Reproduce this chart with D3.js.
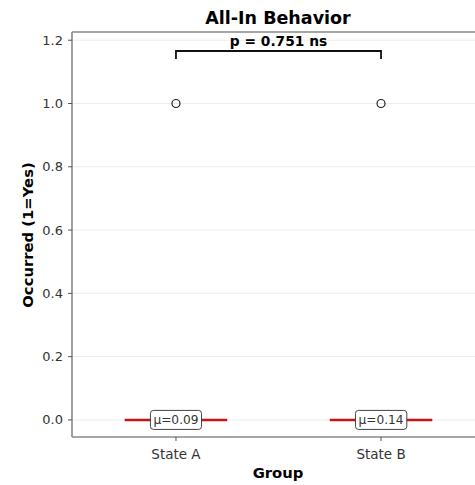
<!DOCTYPE html>
<meta charset="utf-8">
<script src="https://d3js.org/d3.v7.min.js"></script>
<style>
body { margin: 0; background: #fff; }
text { font-family: "DejaVu Sans", sans-serif; }
</style>
<div id="chart"></div>
<script>
// data: binary outcome per group
var groups = ["State A", "State B"];
var stateA = [0, 0, 0, 0, 0, 0, 0, 0, 0, 0, 1];
var stateB = [0, 0, 0, 0, 0, 0, 1];
var yTicks = [0.0, 0.2, 0.4, 0.6, 0.8, 1.0, 1.2];
var pLabel = "p = 0.751 ns";

var W = 475, H = 485;

var svg = d3.select("#chart").append("svg")
  .attr("width", W).attr("height", H);

var x = d3.scaleLinear().domain([-0.507, 1.507]).range([72, 485]);
var y = d3.scaleLinear().domain([-0.054, 1.226]).range([437, 32]);

// grid
svg.append("g").selectAll("line").data(yTicks).enter().append("line")
  .attr("x1", 72).attr("x2", W)
  .attr("y1", function(d) { return y(d); }).attr("y2", function(d) { return y(d); })
  .attr("stroke", "#ececec").attr("stroke-width", 1);

// box stats
var data = [stateA, stateB].map(function(v, i) {
  var s = v.slice().sort(d3.ascending);
  var q1 = d3.quantile(s, 0.25), q3 = d3.quantile(s, 0.75), med = d3.quantile(s, 0.5);
  var iqr = q3 - q1;
  var fl = s.filter(function(d) { return d < q1 - 1.5 * iqr || d > q3 + 1.5 * iqr; });
  return {g: groups[i], i: i, med: med, q1: q1, q3: q3, mean: d3.mean(s), fliers: fl};
});

var bw = 0.5;

var box = svg.append("g").selectAll("g").data(data).enter().append("g");

box.append("line")
  .attr("x1", function(d) { return x(d.i - bw / 2); })
  .attr("x2", function(d) { return x(d.i + bw / 2); })
  .attr("y1", function(d) { return y(d.med); })
  .attr("y2", function(d) { return y(d.med); })
  .attr("stroke", "#cc1111").attr("stroke-width", 2.5);

box.selectAll("circle").data(function(d) {
  return d.fliers.filter(function(v, k, a) { return a.indexOf(v) === k; })
    .map(function(v) { return {i: d.i, v: v}; });
}).enter().append("circle")
  .attr("cx", function(d) { return x(d.i); })
  .attr("cy", function(d) { return y(d.v); })
  .attr("r", 4)
  .attr("fill", "none").attr("stroke", "#222").attr("stroke-width", 1.2);

// mean labels
box.each(function(d) {
  var g = d3.select(this);
  var t = g.append("text")
    .attr("x", x(d.i)).attr("y", y(0) + 4.5)
    .attr("text-anchor", "middle")
    .attr("font-size", 12.2).attr("fill", "#333")
    .text("\u03bc=" + d.mean.toFixed(2));
  var bb = t.node().getBBox();
  g.insert("rect", "text")
    .attr("x", bb.x - 3).attr("y", y(0) - 9.5)
    .attr("width", bb.width + 6).attr("height", 19)
    .attr("rx", 3)
    .attr("fill", "#fff").attr("stroke", "#444").attr("stroke-width", 1);
});

// spines
svg.append("line").attr("x1", 72).attr("x2", 72).attr("y1", 32).attr("y2", 437)
  .attr("stroke", "#888").attr("stroke-width", 1.6);
svg.append("line").attr("x1", 72).attr("x2", W).attr("y1", 437).attr("y2", 437)
  .attr("stroke", "#888").attr("stroke-width", 1.6);
svg.append("line").attr("x1", 72).attr("x2", W).attr("y1", 32).attr("y2", 32)
  .attr("stroke", "#888").attr("stroke-width", 1.6);

// y ticks
var yt = svg.append("g").selectAll("g").data(yTicks).enter().append("g");
yt.append("line").attr("x1", 68).attr("x2", 72)
  .attr("y1", function(d) { return y(d); }).attr("y2", function(d) { return y(d); })
  .attr("stroke", "#555").attr("stroke-width", 1);
yt.append("text").attr("x", 63).attr("y", function(d) { return y(d) + 4.5; })
  .attr("text-anchor", "end").attr("font-size", 13).attr("fill", "#333")
  .text(function(d) { return d.toFixed(1); });

// x ticks
var xt = svg.append("g").selectAll("g").data(groups).enter().append("g");
xt.append("line").attr("x1", function(d, i) { return x(i); }).attr("x2", function(d, i) { return x(i); })
  .attr("y1", 437).attr("y2", 441).attr("stroke", "#555");
xt.append("text").attr("x", function(d, i) { return x(i); }).attr("y", 459)
  .attr("text-anchor", "middle").attr("font-size", 13.5).attr("fill", "#333")
  .text(function(d) { return d; });

// bracket
var by = 51;
svg.append("path")
  .attr("d", "M" + x(0) + "," + (by + 8) + "V" + by + "H" + x(1) + "V" + (by + 8))
  .attr("fill", "none").attr("stroke", "#111").attr("stroke-width", 1.8);
svg.append("text").attr("x", (x(0) + x(1)) / 2).attr("y", by - 5.5)
  .attr("text-anchor", "middle").attr("font-size", 13.8).attr("font-weight", "bold")
  .text(pLabel);

// title & labels
svg.append("text").attr("x", 278).attr("y", 24)
  .attr("text-anchor", "middle").attr("font-size", 17.5).attr("font-weight", "bold")
  .text("All-In Behavior");
svg.append("text").attr("x", 278).attr("y", 478)
  .attr("text-anchor", "middle").attr("font-size", 14.8).attr("font-weight", "bold")
  .text("Group");
svg.append("text").attr("transform", "translate(33,235) rotate(-90)")
  .attr("text-anchor", "middle").attr("font-size", 14.8).attr("font-weight", "bold")
  .text("Occurred (1=Yes)");
</script>
